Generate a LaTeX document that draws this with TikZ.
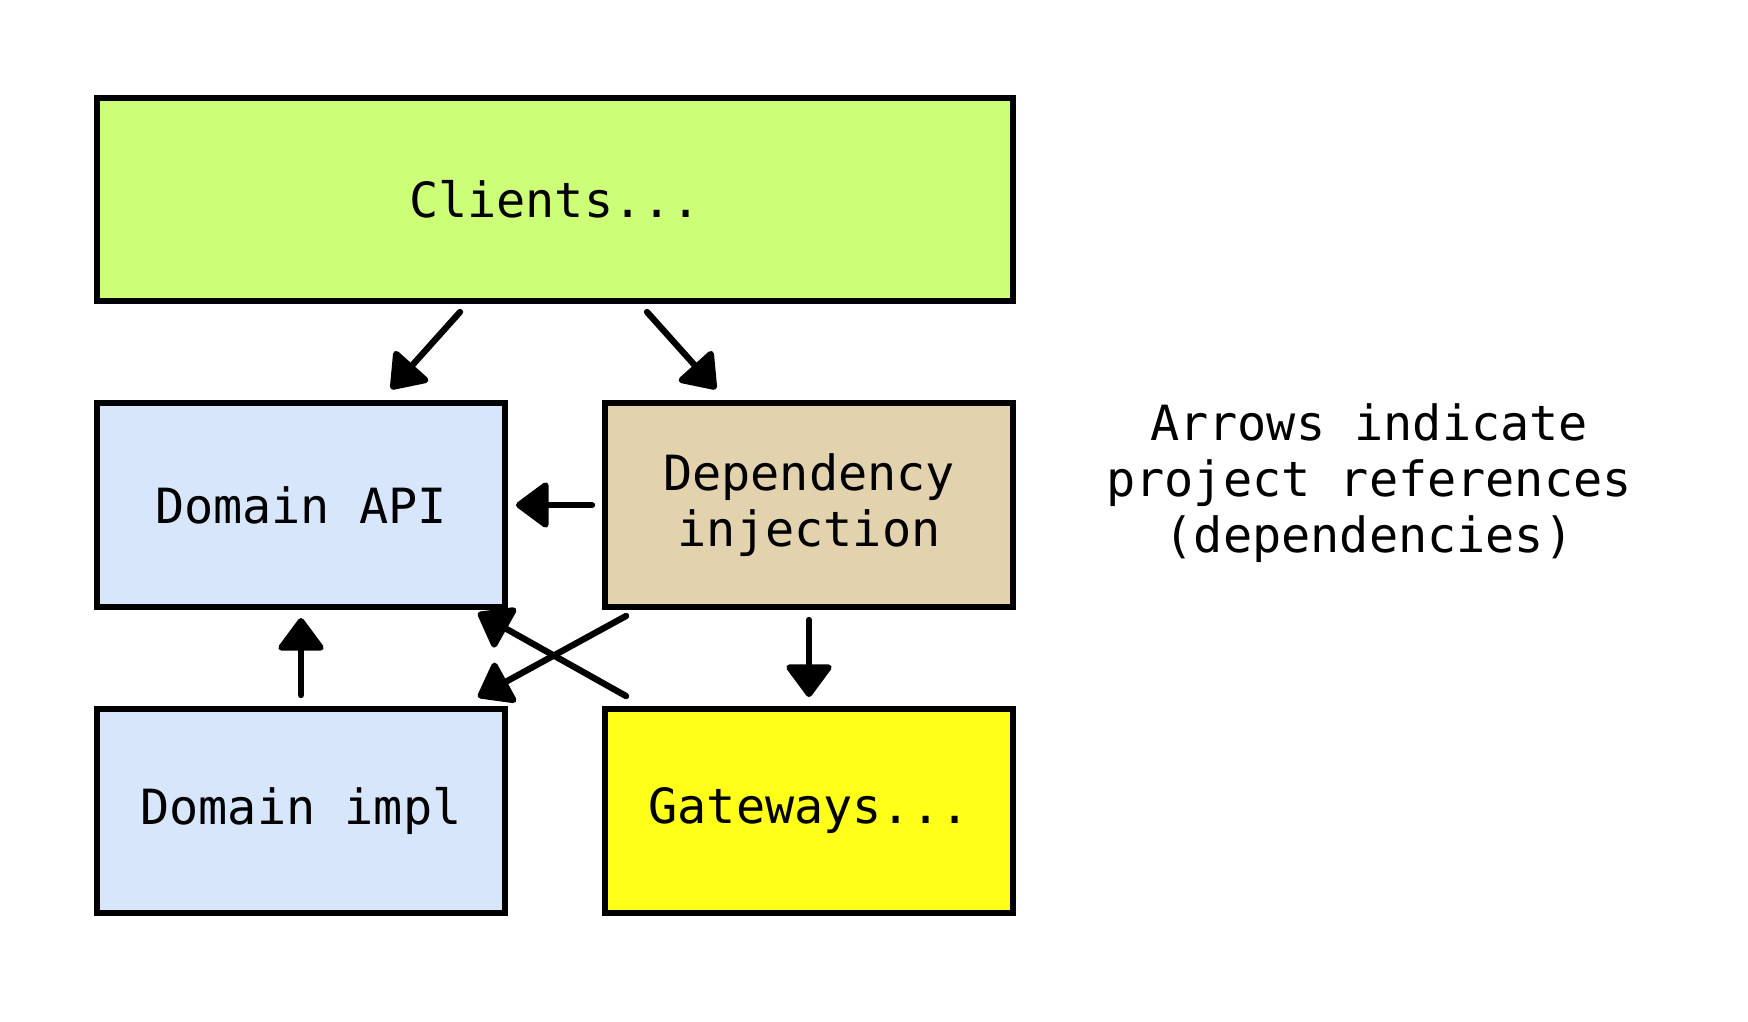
\documentclass[tikz,border=0pt]{standalone}
\usepackage{fontspec}
\setmonofont{DejaVu Sans Mono}
\usepackage{xcolor}
\usepackage{tikz}
\usetikzlibrary{arrows.meta,positioning}

\definecolor{clientgreen}{RGB}{204,255,119}
\definecolor{domainblue}{RGB}{215,230,250}
\definecolor{ditan}{RGB}{226,210,174}
\definecolor{gwyellow}{RGB}{255,255,26}

\begin{document}
\begin{tikzpicture}[x=1mm,y=1mm,>={Triangle[length=3.5mm,width=5mm,round]},
  every node/.style={font=\ttfamily\fontsize{13.8}{16}\selectfont},
  layer/.style={draw,line width=1.7pt,align=center,minimum width=40.8mm,minimum height=20.4mm},
  dep/.style={->,line width=1.8pt,line cap=round,line join=round}]
  \useasboundingbox (0,0) rectangle (174.8,102.1);
  \node[layer,fill=clientgreen,minimum width=91.6mm,minimum height=20.3mm] (clients) at (55.5,82.15) {Clients...};
  \node[layer,fill=domainblue] (api) at (30.1,51.6) {Domain API};
  \node[layer,fill=ditan] (di) at (80.9,51.6) {Dependency\\injection};
  \node[layer,fill=domainblue] (impl) at (30.1,21.0) {Domain impl};
  \node[layer,fill=gwyellow] (gateways) at (80.9,21.0) {Gateways...};
  \node[align=center] (note) at (136.9,53.8) {Arrows indicate\\project references\\(dependencies)};
  % references
  \draw[dep] ([shift={(-9.5,-0.8)}]clients.south) -- ([shift={(9.0,1.1)}]api.north);
  \draw[dep] ([shift={(9.2,-0.8)}]clients.south) -- ([shift={(-9.3,1.1)}]di.north);
  \draw[dep] ([shift={(-1,0)}]di.west) -- ([shift={(0.8,0)}]api.east);
  \draw[dep] ([shift={(2.4,-0.6)}]di.south west) -- ([shift={(-3.0,0.9)}]impl.north east);
  \draw[dep] ([shift={(2.4,1.0)}]gateways.north west) -- ([shift={(-3.0,-0.3)}]api.south east);
  \draw[dep] ([shift={(0,1.1)}]impl.north) -- ([shift={(0,-0.8)}]api.south);
  \draw[dep] ([shift={(0,-1)}]di.south) -- ([shift={(0,0.9)}]gateways.north);
\end{tikzpicture}
\end{document}
